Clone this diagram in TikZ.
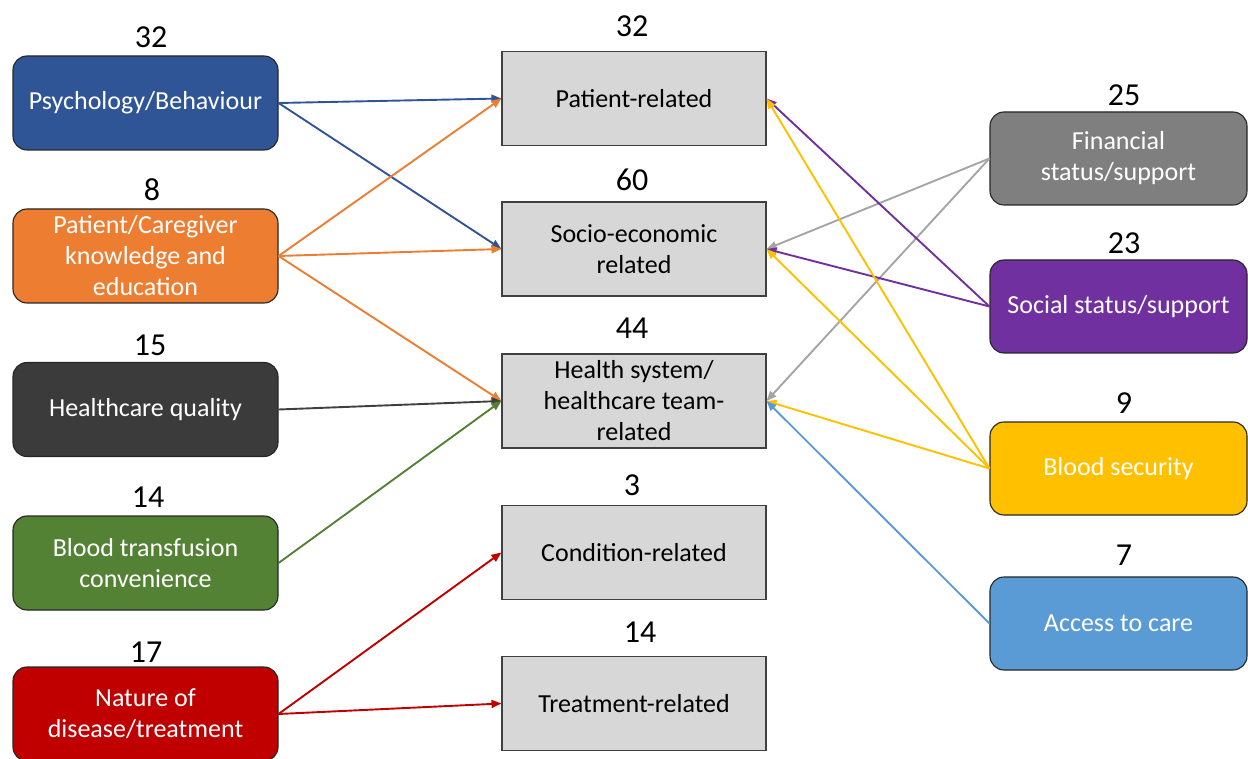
\documentclass[tikz,border=0pt]{standalone}
\usepackage{fontspec}
\setmainfont{Carlito}
\usetikzlibrary{arrows.meta}

\definecolor{cblue}{HTML}{2F5597}
\definecolor{corange}{HTML}{ED7D31}
\definecolor{cdark}{HTML}{3B3B3B}
\definecolor{cdarkline}{HTML}{404040}
\definecolor{cgreen}{HTML}{548235}
\definecolor{cred}{HTML}{C00000}
\definecolor{cgray}{HTML}{7F7F7F}
\definecolor{cgrayline}{HTML}{A5A5A5}
\definecolor{cpurple}{HTML}{7030A0}
\definecolor{cyellow}{HTML}{FFC000}
\definecolor{clight}{HTML}{5B9BD5}
\definecolor{boxgray}{HTML}{D7D7D7}

\begin{document}
\begin{tikzpicture}[x=1pt,y=-1pt,
  factor/.style={draw=black!85, line width=1.1pt, rounded corners=14pt,
    minimum width=265pt, minimum height=94pt, text=white, inner sep=0pt,
    font=\fontsize{26}{31}\selectfont, align=center},
  rfactor/.style={factor, minimum width=257pt, minimum height=93pt},
  areabox/.style={draw=black!75, line width=1.1pt, fill=boxgray,
    minimum width=264pt, minimum height=94pt, inner sep=0pt,
    font=\fontsize{26}{31}\selectfont, align=center},
  count/.style={font=\fontsize{32}{38}\selectfont, inner sep=0pt},
  link/.style={line width=1.9pt, -{Triangle[length=10pt,width=8pt]}}]
\useasboundingbox (0,0) rectangle (1248,759);

% left column: factors
\node[factor, fill=cblue]   (psy) at (145.5,103)   {Psychology/Behaviour};
\node[factor, fill=corange] (kno) at (145.5,256)   {Patient/Caregiver\\knowledge and\\education};
\node[factor, fill=cdark]   (hcq) at (145.5,409.5) {Healthcare quality};
\node[factor, fill=cgreen]  (btc) at (145.5,563)   {Blood transfusion\\convenience};
\node[factor, fill=cred]    (nat) at (145.5,714)   {Nature of\\disease/treatment};

\node[count] (npsy) at (151,37)  {32};
\node[count] (nkno) at (152,190) {8};
\node[count] (nhcq) at (150,345) {15};
\node[count] (nbtc) at (148,497) {14};
\node[count] (nnat) at (146,652) {17};

% middle column: domains
\node[areabox] (pat) at (634,98.5)  {Patient-related};
\node[areabox] (soc) at (634,249)   {Socio-economic\\related};
\node[areabox] (hs)  at (634,401)   {Health system/\\healthcare team-\\related};
\node[areabox] (con) at (634,552.5) {Condition-related};
\node[areabox] (tre) at (634,703.5) {Treatment-related};

\node[count] (npat) at (632,26)  {32};
\node[count] (nsoc) at (632,180) {60};
\node[count] (nhs)  at (632,328) {44};
\node[count] (ncon) at (632,485) {3};
\node[count] (ntre) at (640,632) {14};

% right column: factors
\node[rfactor, fill=cgray]   (fin) at (1118.5,158.5) {Financial\\status/support};
\node[rfactor, fill=cpurple] (sss) at (1118.5,306.5) {Social status/support};
\node[rfactor, fill=cyellow] (bls) at (1118.5,468.5) {Blood security};
\node[rfactor, fill=clight]  (acc) at (1118.5,623.5) {Access to care};

\node[count] (nfin) at (1124,95)  {25};
\node[count] (nsss) at (1124,243) {23};
\node[count] (nbls) at (1124,403) {9};
\node[count] (nacc) at (1124,555) {7};

% connectors from the left
\draw[link, cblue]     (psy.east) -- (pat.west);
\draw[link, cblue]     (psy.east) -- (soc.west);
\draw[link, corange]   (kno.east) -- (pat.west);
\draw[link, corange]   (kno.east) -- (soc.west);
\draw[link, corange]   (kno.east) -- (hs.west);
\draw[link, cdarkline] (hcq.east) -- (hs.west);
\draw[link, cgreen]    (btc.east) -- (hs.west);
\draw[link, cred]      (nat.east) -- (con.west);
\draw[link, cred]      (nat.east) -- (tre.west);

% connectors from the right
\draw[link, cgrayline] (fin.west) -- (soc.east);
\draw[link, cgrayline] (fin.west) -- (hs.east);
\draw[link, cpurple]   (sss.west) -- (pat.east);
\draw[link, cpurple]   (sss.west) -- (soc.east);
\draw[link, cyellow]   (bls.west) -- (pat.east);
\draw[link, cyellow]   (bls.west) -- (soc.east);
\draw[link, cyellow]   (bls.west) -- (hs.east);
\draw[link, clight]    (acc.west) -- (hs.east);
\end{tikzpicture}
\end{document}
